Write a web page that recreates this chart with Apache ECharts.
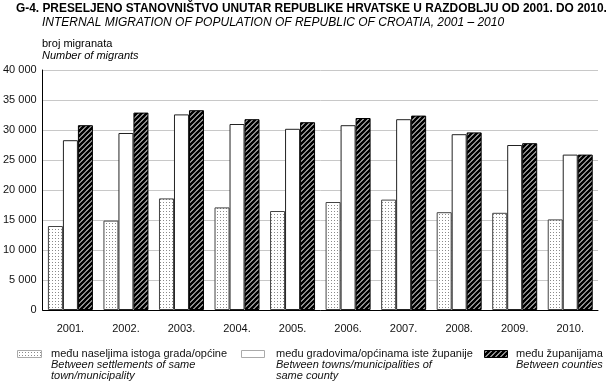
<!DOCTYPE html>
<html><head><meta charset="utf-8">
<script src="https://cdn.jsdelivr.net/npm/echarts@6/dist/echarts.min.js"></script>
<style>html,body{margin:0;padding:0;background:#fff}#c{width:610px;height:385px}</style>
</head><body><div id="c"></div>
<script>
var categories = ['2001.','2002.','2003.','2004.','2005.','2006.','2007.','2008.','2009.','2010.'];
var seriesNames = ['među naseljima istoga grada/općine','među gradovima/općinama iste županije','među županijama'];
var seriesEnglish = [['Between settlements of same','town/municipality'],['Between towns/municipalities of','same county'],['Between counties']];
var withinCity = [14000,14900,18600,17100,16500,18000,18400,16300,16200,15100];
var withinCounty = [28300,29500,32600,31000,30200,30800,31800,29300,27500,25900];
var betweenCounties = [30800,32900,33300,31800,31300,32000,32400,29600,27800,25900];
var yTicks = [0,5000,10000,15000,20000,25000,30000,35000,40000];

function dotPattern(){
  var c=document.createElement('canvas');c.width=3;c.height=3;
  var g=c.getContext('2d');g.fillStyle='#fff';g.fillRect(0,0,3,3);
  g.fillStyle='#8a8a8a';g.fillRect(1,1,1,1);
  return {image:c,repeat:'repeat'};
}
function hatchPattern(){
  var s=5;var c=document.createElement('canvas');c.width=s;c.height=s;
  var g=c.getContext('2d');g.fillStyle='#fff';g.fillRect(0,0,s,s);
  g.strokeStyle='#000';g.lineWidth=2.7;g.beginPath();
  g.moveTo(-1,s+1);g.lineTo(s+1,-1);
  g.moveTo(-1,1);g.lineTo(1,-1);
  g.moveTo(s-1,s+1);g.lineTo(s+1,s-1);
  g.stroke();
  return {image:c,repeat:'repeat'};
}
var fills=[dotPattern(),'#ffffff',hatchPattern()];
var borders=['#444','#222','#000'];
var data=[withinCity,withinCounty,betweenCounties];
var font='Liberation Sans, Arial, sans-serif';

var chart=echarts.init(document.getElementById('c'),null,{renderer:'canvas'});
var series=data.map(function(d,i){
  return {name:seriesNames[i],type:'bar',data:d,barWidth:15,barGap:'0%',
    itemStyle:{color:fills[i],borderColor:borders[i],borderWidth:1},
    emphasis:{disabled:true},animation:false};
});
var graphics=[
  {type:'text',left:16,top:3,style:{text:'G-4. PRESELJENO STANOVNIŠTVO UNUTAR REPUBLIKE HRVATSKE U RAZDOBLJU OD 2001. DO 2010.',font:'bold 11.9px '+font,fill:'#000'}},
  {type:'text',left:42,top:17,style:{text:'INTERNAL MIGRATION OF POPULATION OF REPUBLIC OF CROATIA, 2001 – 2010',font:'italic 12px '+font,fill:'#000'}},
  {type:'text',left:42,top:38,style:{text:'broj migranata',font:'11px '+font,fill:'#000'}},
  {type:'text',left:42,top:50,style:{text:'Number of migrants',font:'italic 11px '+font,fill:'#000'}}
];
var swX=[17,241,484], swW=[24,23,23], txtX=[51,276,516];
var swBorder=['#aaa','#aaa','#000'];
seriesNames.forEach(function(n,i){
  graphics.push({type:'rect',shape:{x:swX[i]+0.5,y:350.5,width:swW[i],height:7},
    style:{fill:fills[i],stroke:swBorder[i],lineWidth:1}});
  graphics.push({type:'text',x:txtX[i],y:354,style:{text:n,font:'11px '+font,fill:'#111',textVerticalAlign:'middle'}});
  seriesEnglish[i].forEach(function(t,j){
    graphics.push({type:'text',x:txtX[i],y:365+j*11,style:{text:t,font:'italic 11px '+font,fill:'#111',textVerticalAlign:'middle'}});
  });
});
chart.setOption({
  animation:false,
  grid:{left:42,right:12,top:70,bottom:75,containLabel:false},
  xAxis:{type:'category',data:categories,
    axisLine:{lineStyle:{color:'#000',width:1}},axisTick:{show:false},
    axisLabel:{fontFamily:font,fontSize:11,color:'#111',margin:13}},
  yAxis:{type:'value',min:0,max:40000,interval:5000,
    axisLine:{show:true,lineStyle:{color:'#000',width:1}},axisTick:{show:false},
    splitLine:{lineStyle:{color:'#c8c8c8',width:1}},
    axisLabel:{fontFamily:font,fontSize:11,color:'#111',margin:6,
      formatter:function(v){return yTicks.indexOf(v)>=0?String(v).replace(/\B(?=(\d{3})+(?!\d))/g,' '):'';}}},
  series:series,
  graphic:graphics
});
</script></body></html>
